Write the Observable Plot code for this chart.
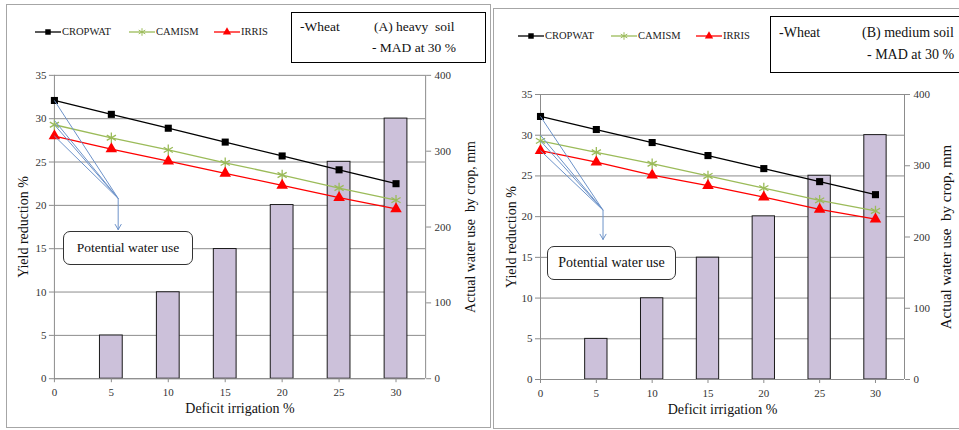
<!DOCTYPE html>
<html>
<head>
<meta charset="utf-8">
<script src="https://cdn.jsdelivr.net/npm/d3@7"></script>
<script src="https://cdn.jsdelivr.net/npm/@observablehq/plot@0.6"></script>
<style>
  html, body { margin: 0; padding: 0; background: #fff; }
  body { width: 959px; height: 430px; position: relative; overflow: hidden; }
  body, body * { font-family: "Liberation Serif", "Times New Roman", serif !important; }
  .panel svg text { font-family: "Liberation Serif", "Times New Roman", serif !important; }
  .panel { position: absolute; border: 1px solid #a6a6a6; box-sizing: border-box; background: #fff; }
  .panel > svg { position: absolute; left: 0; top: 0; }
  .abs { position: absolute; white-space: pre; color: #111; }
  .box { position: absolute; border: 1px solid #000; box-sizing: border-box; background: #fff; }
  .callout { position: absolute; border: 1px solid #333; border-radius: 7px; box-sizing: border-box; background: #fff;
             display: flex; align-items: center; justify-content: center; color: #111; }
  .leg { position: absolute; display: flex; align-items: center; font-size: 10.5px; color: #222; }
  .leg svg { position: static; margin-right: 1px; }
</style>
</head>
<body>
<script>
// ---------- data ----------
const deficit = [0, 5, 10, 15, 20, 25, 30];
const seriesNames = ["CROPWAT", "CAMISM", "IRRIS"];
const cropwatA = [32.1, 30.5, 28.9, 27.3, 25.7, 24.1, 22.5];
const camismA  = [29.3, 27.8, 26.4, 24.9, 23.5, 22.0, 20.6];
const irrisA   = [28.0, 26.5, 25.1, 23.7, 22.3, 20.9, 19.6];
const cropwatB = [32.3, 30.7, 29.1, 27.5, 25.9, 24.3, 22.7];
const camismB  = [29.3, 27.9, 26.5, 25.0, 23.5, 22.0, 20.7];
const irrisB   = [28.1, 26.7, 25.1, 23.8, 22.4, 20.9, 19.7];
const barDeficit = [5, 10, 15, 20, 25, 30];
const waterUse = [57, 114, 171, 229, 286, 343];   // mm, right axis
const yTicks = [0, 5, 10, 15, 20, 25, 30, 35];
const rightTicks = [0, 100, 200, 300, 400];
const xTicks = [0, 5, 10, 15, 20, 25, 30];
const titleA = ["-Wheat", "(A) heavy  soil", "- MAD at 30 %"];
const titleB = ["-Wheat", "(B) medium soil", "- MAD at 30 %"];
const calloutText = "Potential water use";
const xLabel = "Deficit irrigation %";
const yLabel = "Yield reduction %";
const y2Label = "Actual water use  by crop, mm";

const FONT = "Liberation Serif";
const colors = {CROPWAT: "#000000", CAMISM: "#9bbb59", IRRIS: "#ff0000"};
const symbols = {CROPWAT: "square", CAMISM: "asterisk", IRRIS: "triangle"};
const Y_MAX = 35, Y2_MAX = 400, X_MAX = 32.6;
const k = Y_MAX / Y2_MAX;

function makeRows(c, m, i) {
  const rows = [];
  [c, m, i].forEach((vals, s) => vals.forEach((v, j) => rows.push({series: seriesNames[s], x: deficit[j], y: v})));
  return rows;
}
const bars = barDeficit.map((d, i) => ({x: d, mm: waterUse[i]}));

function panelPlot(cfg) {
  const rows = makeRows(cfg.c, cfg.m, cfg.i);
  const grey = "#8c8c8c";
  const svg = Plot.plot({
    width: cfg.width, height: cfg.height,
    marginLeft: cfg.ml, marginRight: cfg.mr, marginTop: cfg.mt, marginBottom: cfg.mb,
    x: {domain: [0, X_MAX]},
    y: {domain: [0, Y_MAX]},
    style: {fontFamily: FONT, fontSize: "11px", color: "#333", background: "transparent", overflow: "visible"},
    marks: [
      Plot.gridY(yTicks, {stroke: grey, strokeOpacity: 1, strokeWidth: 1}),
      Plot.rectY(bars, {x1: d => d.x - 1, x2: d => d.x + 1, y1: 0, y2: d => d.mm * k, fill: "#ccc1da", stroke: "#1a1a1a", strokeWidth: 1}),
      Plot.ruleX([0], {stroke: grey}),
      Plot.ruleX([X_MAX], {stroke: grey}),
      Plot.ruleY([0], {stroke: grey}),
      Plot.axisY(yTicks, {anchor: "left", tickSize: 5, tickPadding: 3, stroke: grey, fill: "#333", label: null, fontFamily: FONT}),
      Plot.axisY(rightTicks.map(v => v * k), {anchor: "right", tickSize: 5, tickPadding: 4, stroke: grey, fill: "#333", label: null, fontFamily: FONT,
        tickFormat: d => String(Math.round(d / k))}),
      Plot.axisX(xTicks, {anchor: "bottom", tickSize: 4, tickPadding: 6, stroke: grey, fill: "#333", label: null, fontFamily: FONT}),
      Plot.line(rows, {x: "x", y: "y", z: "series", stroke: d => colors[d.series], strokeWidth: 1.3}),
      Plot.dot(rows.filter(d => d.series === "CROPWAT"), {x: "x", y: "y", symbol: "square", r: 4, fill: colors.CROPWAT}),
      Plot.dot(rows.filter(d => d.series === "CAMISM"), {x: "x", y: "y", symbol: "asterisk", r: 5, stroke: colors.CAMISM, strokeWidth: 1.3, fill: "none"}),
      Plot.dot(rows.filter(d => d.series === "IRRIS"), {x: "x", y: "y", symbol: "triangle", r: 4.3, fill: colors.IRRIS}),
      Plot.link(cfg.anchors, {x1: 0, y1: d => d, x2: 5.6, y2: 20.8, stroke: "#6d93c9", strokeWidth: 1}),
      Plot.arrow([0], {x1: 5.6, y1: 20.8, x2: 5.6, y2: 17.2, stroke: "#6d93c9", strokeWidth: 1, headLength: 9}),
      Plot.text([xLabel], {frameAnchor: "bottom", dy: 34, fontSize: 14, fill: "#111", fontFamily: FONT}),
      Plot.text([yLabel], {frameAnchor: "left", textAnchor: "middle", dx: cfg.yldx, rotate: -90, fontSize: 14, fill: "#111", fontFamily: FONT}),
      Plot.text([y2Label], {frameAnchor: "right", textAnchor: "middle", dx: cfg.y2dx, rotate: -90, fontSize: cfg.y2size, fill: "#111", fontFamily: FONT})
    ]
  });
  svg.setAttribute("font-family", FONT);
  return svg;
}

function legendItem(parent, name, left, top) {
  const div = document.createElement("div");
  div.className = "leg";
  div.style.left = left + "px";
  div.style.top = top + "px";
  const ns = "http://www.w3.org/2000/svg";
  const svg = document.createElementNS(ns, "svg");
  svg.setAttribute("width", 26); svg.setAttribute("height", 10);
  const ln = document.createElementNS(ns, "line");
  ln.setAttribute("x1", 0); ln.setAttribute("x2", 26); ln.setAttribute("y1", 5); ln.setAttribute("y2", 5);
  ln.setAttribute("stroke", colors[name]); ln.setAttribute("stroke-width", 1.3);
  svg.appendChild(ln);
  const p = document.createElementNS(ns, "path");
  const sym = {square: d3.symbolSquare, asterisk: d3.symbolAsterisk, triangle: d3.symbolTriangle}[symbols[name]];
  p.setAttribute("d", d3.symbol(sym, name === "CAMISM" ? 40 : 30)());
  p.setAttribute("transform", "translate(13,5)");
  if (name === "CAMISM") { p.setAttribute("stroke", colors[name]); p.setAttribute("fill", "none"); }
  else p.setAttribute("fill", colors[name]);
  svg.appendChild(p);
  div.appendChild(svg);
  const s = document.createElement("span");
  s.textContent = name;
  div.appendChild(s);
  parent.appendChild(div);
}

function addText(parent, txt, left, top, size) {
  const d = document.createElement("div");
  d.className = "abs";
  d.style.left = left + "px"; d.style.top = top + "px"; d.style.fontSize = size + "px";
  d.textContent = txt;
  parent.appendChild(d);
}

function buildPanel(cfg) {
  const panel = document.createElement("div");
  panel.className = "panel";
  panel.style.left = cfg.left + "px"; panel.style.top = cfg.top + "px";
  panel.style.width = cfg.pw + "px"; panel.style.height = cfg.ph + "px";
  document.body.appendChild(panel);
  panel.appendChild(panelPlot(cfg));
  cfg.legendX.forEach((lx, i) => legendItem(panel, seriesNames[i], lx - cfg.left, cfg.legendY - cfg.top - 6));
  const box = document.createElement("div");
  box.className = "box";
  box.style.left = (cfg.box[0] - cfg.left) + "px"; box.style.top = (cfg.box[1] - cfg.top) + "px";
  box.style.width = cfg.box[2] + "px"; box.style.height = cfg.box[3] + "px";
  panel.appendChild(box);
  addText(box, cfg.title[0], cfg.tpos[0][0], cfg.tpos[0][1], cfg.tsize);
  addText(box, cfg.title[1], cfg.tpos[1][0], cfg.tpos[1][1], cfg.tsize);
  addText(box, cfg.title[2], cfg.tpos[2][0], cfg.tpos[2][1], cfg.tsize);
  const c = document.createElement("div");
  c.className = "callout";
  c.style.left = (cfg.call[0] - cfg.left) + "px"; c.style.top = (cfg.call[1] - cfg.top) + "px";
  c.style.width = cfg.call[2] + "px"; c.style.height = cfg.call[3] + "px";
  c.style.fontSize = cfg.callSize + "px";
  c.textContent = calloutText;
  panel.appendChild(c);
}

buildPanel({
  left: 6, top: 4, pw: 485, ph: 424,
  width: 484, height: 424, ml: 47, mr: 65, mt: 70, mb: 50,
  c: cropwatA, m: camismA, i: irrisA,
  anchors: [32.1, 29.8, 29.3, 28.0],
  yldx: -31, y2dx: 45, y2size: 14,
  legendX: [34, 128, 213], legendY: 31,
  box: [290, 11, 195, 51], title: titleA, tsize: 13.5,
  tpos: [[8, 6], [82, 6], [80, 27]],
  call: [62, 230, 130, 34], callSize: 13.5
});

buildPanel({
  left: 493, top: 8, pw: 470, ph: 421,
  width: 466, height: 420, ml: 46, mr: 56, mt: 85, mb: 50,
  c: cropwatB, m: camismB, i: irrisB,
  anchors: [32.3, 30.0, 29.3, 28.1],
  yldx: -29, y2dx: 42, y2size: 15,
  legendX: [517, 610, 695], legendY: 35,
  box: [769, 15, 200, 57], title: titleB, tsize: 14,
  tpos: [[8, 8], [91, 8], [96, 30]],
  call: [546, 245, 129, 34], callSize: 14
});
</script>
</body>
</html>
